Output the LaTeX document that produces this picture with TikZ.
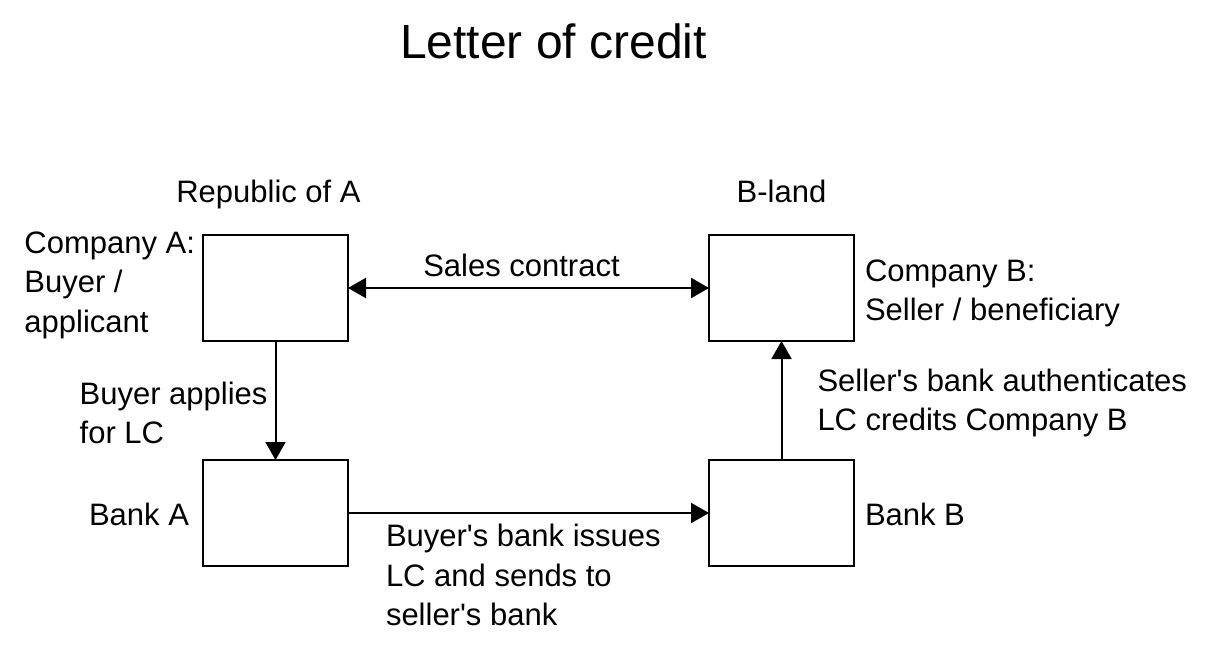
\documentclass[tikz,border=0pt]{standalone}
\usepackage{fontspec}
\setmainfont{Liberation Sans}
\usetikzlibrary{positioning, arrows.meta}
\tikzset{>={Triangle[length=18pt,width=20pt]}, node distance=361pt}
\tikzset{
  box/.style={draw, minimum width=145pt, minimum height=106pt, inner sep=0pt, outer sep=0pt},
  lbl/.style={font=\fontsize{31}{39.3}\selectfont, inner sep=0pt, outer sep=0pt},
}

\begin{document}
\begin{tikzpicture}[line width=2pt]
\useasboundingbox (0pt,0pt) rectangle (1224pt,-650pt);
\node[font=\fontsize{48}{58}\selectfont, anchor=base] (title) at (553.5pt,-59pt) {Letter of credit};
\node[box] (compA) at (275.5pt,-288pt) {};
\node[box, right=of compA] (compB) {};
\node[box, below=119pt of compA] (bankA) {};
\node[box, right=of bankA] (bankB) {};
\node[lbl, anchor=base, xshift=-7pt, yshift=32pt] (repA) at (compA.north) {Republic of A};
\node[lbl, anchor=base, yshift=32pt] (bland) at (compB.north) {B-land};
\node[lbl, align=left, anchor=north east] (compAtxt) at ([xshift=-8pt, yshift=3pt]compA.north west) {Company A:\\Buyer /\\applicant};
\node[lbl, align=left, anchor=north west] (compBtxt) at ([xshift=11pt, yshift=-25pt]compB.north east) {Company B:\\Seller / beneficiary};
\node[lbl, anchor=base east] (bankAtxt) at ([xshift=-14pt, yshift=-12.5pt]bankA.west) {Bank A};
\node[lbl, anchor=base west] (bankBtxt) at ([xshift=11pt, yshift=-12.5pt]bankB.east) {Bank B};
\draw[<->] (compA) -- node[lbl, anchor=base, xshift=-7pt, yshift=11.6pt] {Sales contract} (compB);
\draw[->] (compA) -- node[lbl, align=left, left=8pt, yshift=-12.5pt] {Buyer applies\\for LC} (bankA);
\draw[->] (bankA) -- node[lbl, align=left, anchor=north west, pos=0, xshift=38pt, yshift=-11.3pt] {Buyer\textquotesingle s bank issues\\LC and sends to\\seller\textquotesingle s bank} (bankB);
\draw[->] (bankB) -- node[lbl, align=left, anchor=north west, pos=1, xshift=36pt, yshift=-28pt] {Seller\textquotesingle s bank authenticates\\LC credits Company B} (compB);
\end{tikzpicture}
\end{document}
